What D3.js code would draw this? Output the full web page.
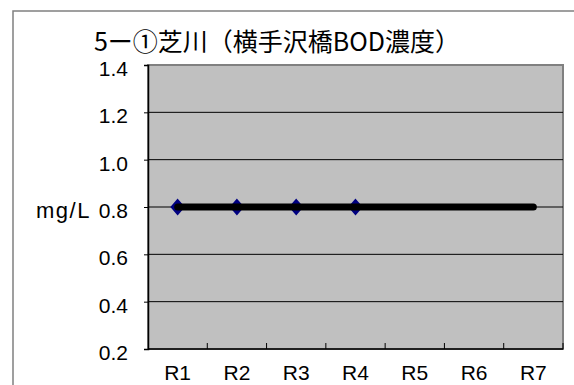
<!DOCTYPE html>
<html>
<head>
<meta charset="utf-8">
<script src="https://cdn.jsdelivr.net/npm/d3@7"></script>
<style>
  body { margin: 0; background: #fff; }
  text { fill: #000; }
</style>
</head>
<body>
<div id="chart"></div>
<script>
// chart data
const categories = ["R1", "R2", "R3", "R4", "R5", "R6", "R7"];
const bodValues = [0.8, 0.8, 0.8, 0.8];               // measured (diamond markers)
const standardValues = [0.8, 0.8, 0.8, 0.8, 0.8, 0.8, 0.8]; // standard line
const yTicks = [0.2, 0.4, 0.6, 0.8, 1.0, 1.2, 1.4];
const titleText = "5ー①芝川（横手沢橋BOD濃度）";
const unitText = "mg/L";

const width = 574;
const height = 385;
const plot = { left: 148, top: 65, right: 563, bottom: 349 };
const labelFont = "'Liberation Sans', Arial, sans-serif";

const svg = d3.select("#chart").append("svg")
    .attr("width", width)
    .attr("height", height);

// outer chart frame (runs off the right and bottom edges)
svg.append("rect")
    .attr("x", 13).attr("y", 11)
    .attr("width", 620).attr("height", 420)
    .attr("fill", "#fff")
    .attr("stroke", "#808080")
    .attr("stroke-width", 1.5);

const x = d3.scaleBand()
    .domain(categories)
    .range([plot.left, plot.right])
    .padding(0);

const y = d3.scaleLinear()
    .domain([0.2, 1.4])
    .range([plot.bottom, plot.top]);

// plot background
svg.append("rect")
    .attr("x", plot.left).attr("y", plot.top)
    .attr("width", plot.right - plot.left)
    .attr("height", plot.bottom - plot.top)
    .attr("fill", "#c0c0c0")
    .attr("stroke", "#808080")
    .attr("stroke-width", 2);

// gridlines
svg.append("g")
    .selectAll("line")
    .data(yTicks.filter(d => d > 0.2 && d < 1.4))
    .enter().append("line")
    .attr("x1", plot.left).attr("x2", plot.right)
    .attr("y1", d => y(d)).attr("y2", d => y(d))
    .attr("stroke", "#000")
    .attr("stroke-width", 1);

// y axis
const yAxis = svg.append("g")
    .attr("transform", `translate(${plot.left},0)`)
    .call(d3.axisLeft(y).tickValues(yTicks).tickSize(4).tickPadding(16)
        .tickFormat(d3.format(".1f")));
yAxis.select(".domain").attr("stroke", "#000").attr("stroke-width", 1.5);
yAxis.selectAll(".tick line").attr("stroke", "#000");
yAxis.selectAll(".tick text")
    .attr("dy", "0.5em")
    .style("font-size", "21px")
    .style("font-family", labelFont);

// x axis: ticks at category boundaries, pointing inward
const xAxis = svg.append("g")
    .attr("transform", `translate(0,${plot.bottom})`);
xAxis.append("line")
    .attr("x1", plot.left).attr("x2", plot.right)
    .attr("stroke", "#000").attr("stroke-width", 1.5);
xAxis.selectAll("line.tick")
    .data(categories)
    .enter().append("line")
    .attr("class", "tick")
    .attr("x1", d => x(d) + x.bandwidth()).attr("x2", d => x(d) + x.bandwidth())
    .attr("y1", 0).attr("y2", -6)
    .attr("stroke", "#000");
xAxis.selectAll("text")
    .data(categories)
    .enter().append("text")
    .attr("x", d => x(d) + x.bandwidth() / 2)
    .attr("y", 31)
    .attr("text-anchor", "middle")
    .style("font-size", "21px")
    .style("font-family", labelFont)
    .text(d => d);

// unit label
svg.append("text")
    .attr("x", 36)
    .attr("y", y(0.8))
    .attr("dy", "0.5em")
    .style("font-size", "22px")
    .style("letter-spacing", "1.5px")
    .style("font-family", labelFont)
    .text(unitText);

// title
svg.append("text")
    .attr("x", 277)
    .attr("y", 51)
    .attr("text-anchor", "middle")
    .style("font-size", "25px")
    .style("font-family", "'Noto Sans CJK JP', sans-serif")
    .text(titleText);

// measured series markers
const cx = (d, i) => x(categories[i]) + x.bandwidth() / 2;
svg.append("g")
    .selectAll("path")
    .data(bodValues)
    .enter().append("path")
    .attr("d", d3.symbol().type(d3.symbolDiamond2).size(100))
    .attr("transform", (d, i) => `translate(${cx(d, i)},${y(d)}) scale(1,1.15)`)
    .attr("fill", "#000080")
    .attr("stroke", "#000080")
    .attr("stroke-width", 1.5);

// standard line
const line = d3.line()
    .x((d, i) => cx(d, i))
    .y(d => y(d));
svg.append("path")
    .datum(standardValues)
    .attr("d", line)
    .attr("fill", "none")
    .attr("stroke", "#000")
    .attr("stroke-width", 7)
    .attr("stroke-linecap", "round");
</script>
</body>
</html>
